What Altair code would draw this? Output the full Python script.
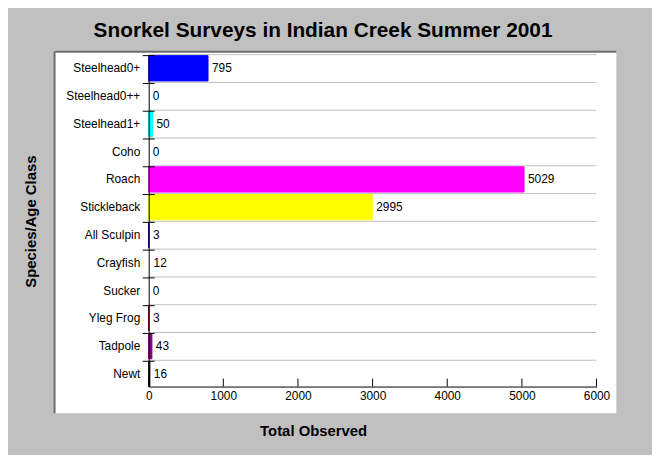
import altair as alt
import pandas as pd

species = ["Steelhead0+", "Steelhead0++", "Steelhead1+", "Coho", "Roach", "Stickleback",
           "All Sculpin", "Crayfish", "Sucker", "Yleg Frog", "Tadpole", "Newt"]
counts = [795, 0, 50, 0, 5029, 2995, 3, 12, 0, 3, 43, 16]
colors = ["#0000FF", "#FFFFFF", "#00FFFF", "#FFFFFF", "#FF00FF", "#FFFF00",
          "#000080", "#FFFFFF", "#FFFFFF", "#800000", "#800080", "#000000"]
x_ticks = [0, 1000, 2000, 3000, 4000, 5000, 6000]

FONT = "Liberation Sans"
W, H = 452, 334

df = pd.DataFrame({"species": species, "count": counts})
ticks_df = pd.DataFrame({"v": x_ticks})

yscale = alt.Scale(domain=species, paddingInner=0.09, paddingOuter=0)
xscale = alt.Scale(domain=[0, 6000], nice=False)

yaxis = alt.Axis(title="Species/Age Class", ticks=False, tickSize=0, grid=False, zindex=2,
                 labelPadding=9, domainColor="black", domainWidth=1,
                 titleX=-114, titleY=167, titleAngle=270,
                 titleBaseline="alphabetic", titleAlign="center")
xaxis = alt.Axis(title="Total Observed", values=x_ticks, format="d", ticks=False, tickSize=0,
                 zindex=2, grid=False, labelPadding=4, domainColor="black", domainWidth=1,
                 labelFlush=False, titleX=166, titleY=49,
                 titleBaseline="alphabetic", titleAlign="center")

Y = dict(field="species", type="nominal", sort=species, scale=yscale, axis=yaxis)
X = dict(field="count", type="quantitative", scale=xscale, axis=xaxis)

base = alt.Chart(df)

panel = alt.Chart(alt.Data(values=[{}])).mark_rect(color="white").encode(
    x=alt.value(-95), x2=alt.value(472), y=alt.value(-4), y2=alt.value(361)
)
border_top = alt.Chart(alt.Data(values=[{}])).mark_rule(color="#6E6E6E", strokeWidth=2).encode(
    x=alt.value(-95), x2=alt.value(472), y=alt.value(-4)
)
border_left = alt.Chart(alt.Data(values=[{}])).mark_rule(color="#6E6E6E", strokeWidth=2).encode(
    x=alt.value(-95), y=alt.value(-4), y2=alt.value(361)
)

grid = base.mark_rule(color="#C0C0C0", strokeWidth=1, yOffset=-1).encode(
    y=alt.Y(**Y, bandPosition=0),
    x=alt.value(0), x2=alt.value("width"),
)

bars = base.mark_bar(strokeWidth=1).encode(
    y=alt.Y(**Y),
    x=alt.X(**X),
    color=alt.Color("species:N", scale=alt.Scale(domain=species, range=colors), legend=None),
    stroke=alt.Stroke("species:N", scale=alt.Scale(domain=species, range=colors), legend=None),
)

labels = base.mark_text(align="left", baseline="middle", dx=4, fontSize=12, font=FONT,
                        color="black").encode(
    y=alt.Y(**Y),
    x=alt.X(**X),
    text=alt.Text("count:Q"),
)

yticks = base.mark_rule(color="black", strokeWidth=1).encode(
    y=alt.Y(**Y, bandPosition=0),
    x=alt.value(-6), x2=alt.value(6),
)

xticks = alt.Chart(ticks_df).mark_rule(color="black", strokeWidth=1).encode(
    x=alt.X("v:Q", scale=xscale, axis=xaxis),
    y=alt.value(H - 8), y2=alt.value(H),
)

chart = alt.layer(panel, border_top, border_left, grid, bars, labels, yticks, xticks).properties(
    width=W, height=H,
    title=alt.Title("Snorkel Surveys in Indian Creek Summer 2001", font=FONT, fontSize=21,
                    fontWeight="bold", color="black", anchor="middle", dx=-50, offset=10),
    autosize=alt.AutoSizeParams(type="none"),
    padding={"left": 142, "top": 46, "right": 56, "bottom": 67},
    background="#C0C0C0",
).configure_view(stroke=None).configure_axis(
    labelFont=FONT, labelFontSize=12, labelColor="black",
    titleFont=FONT, titleFontSize=15, titleFontWeight="bold", titleColor="black",
)

chart.save("out.html", embed_options={"renderer": "svg", "actions": False})
